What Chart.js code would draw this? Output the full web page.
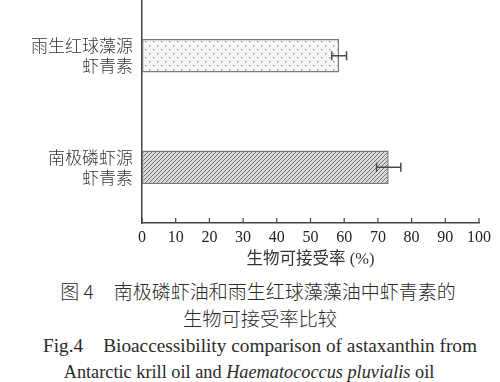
<!DOCTYPE html>
<html><head><meta charset="utf-8">
<script src="https://cdn.jsdelivr.net/npm/chart.js@4/dist/chart.umd.min.js"></script>
<style>
html,body{margin:0;padding:0;background:#fff;width:500px;height:382px;overflow:hidden;}
#wrap{position:absolute;left:0;top:0;width:500px;height:270px;}
.cap{position:absolute;width:500px;text-align:center;color:#2a2a2a;white-space:nowrap;font-family:'Liberation Serif','Noto Sans CJK SC',serif;}
.cjk{font-family:'Noto Sans CJK SC',sans-serif;font-weight:300;}
</style></head>
<body>
<div id="wrap"><canvas id="c" width="500" height="270"></canvas></div>
<div class="cap cjk" style="left:8px;top:279px;font-size:19px;line-height:24px;">图 4<span style="display:inline-block;width:20px"></span>南极磷虾油和雨生红球藻藻油中虾青素的</div>
<div class="cap cjk" style="left:10px;top:306px;font-size:19.3px;line-height:24px;">生物可接受率比较</div>
<div class="cap" style="left:10px;top:334px;font-size:19.3px;line-height:24px;">Fig.4<span style="display:inline-block;width:20px"></span>Bioaccessibility comparison of astaxanthin from</div>
<div class="cap" style="left:-1px;top:360px;font-size:18.3px;line-height:24px;">Antarctic krill oil and <i>Haematococcus pluvialis</i> oil</div>
<script>
const categories = [["雨生红球藻源","虾青素"],["南极磷虾源","虾青素"]];
const values = [58.5, 73.2];
const errors = [2.2, 3.6];
const xTicks = [0,10,20,30,40,50,60,70,80,90,100];
const xTitle = "生物可接受率 (%)";

function dotPattern(){
  const c=document.createElement('canvas');c.width=8;c.height=8;
  const g=c.getContext('2d');
  g.fillStyle='#f7f7f7';g.fillRect(0,0,8,8);
  g.fillStyle='#8a8a8a';
  g.fillRect(1,1,1.3,1.3);g.fillRect(5,5,1.3,1.3);
  return g.createPattern(c,'repeat');
}
function hatchPattern(){
  const c=document.createElement('canvas');c.width=4;c.height=4;
  const g=c.getContext('2d');
  g.fillStyle='#dadada';g.fillRect(0,0,4,4);
  g.strokeStyle='#707070';g.lineWidth=1;
  g.beginPath();
  g.moveTo(0,4);g.lineTo(4,0);
  g.moveTo(-1,1);g.lineTo(1,-1);
  g.moveTo(3,5);g.lineTo(5,3);
  g.stroke();
  return g.createPattern(c,'repeat');
}

const errPlugin={id:'err',afterDatasetsDraw(chart){
  const ctx=chart.ctx,xs=chart.scales.x,ys=chart.scales.y;
  ctx.save();ctx.strokeStyle='#4a4a4a';ctx.lineWidth=1.5;
  values.forEach((v,i)=>{
    const y=ys.getPixelForValue(i);
    const x0=xs.getPixelForValue(v-errors[i]),x1=xs.getPixelForValue(v+errors[i]);
    ctx.beginPath();ctx.moveTo(x0,y);ctx.lineTo(x1,y);
    ctx.moveTo(x0,y-4.5);ctx.lineTo(x0,y+4.5);
    ctx.moveTo(x1,y-4.5);ctx.lineTo(x1,y+4.5);
    ctx.stroke();
  });
  ctx.restore();
}};
const tickPlugin={id:'tk',afterDraw(chart){
  const ctx=chart.ctx,xs=chart.scales.x;
  ctx.save();ctx.strokeStyle='#444';ctx.lineWidth=1.2;
  xs.ticks.forEach((t,i)=>{
    const x=xs.getPixelForTick(i);
    ctx.beginPath();ctx.moveTo(x,xs.top);ctx.lineTo(x,xs.top-5);ctx.stroke();
  });
  ctx.restore();
}};

new Chart(document.getElementById('c'),{
  type:'bar',
  data:{labels:categories,datasets:[{
    data:values,
    backgroundColor:[dotPattern(),hatchPattern()],
    borderColor:'#777',borderWidth:1.5,borderSkipped:false,
    categoryPercentage:0.6,barPercentage:0.5
  }]},
  options:{
    indexAxis:'y',responsive:false,animation:false,devicePixelRatio:1,
    layout:{padding:{top:0,right:21,left:0,bottom:0}},
    plugins:{legend:{display:false},tooltip:{enabled:false}},
    scales:{
      x:{min:0,max:100,
        afterBuildTicks(s){s.ticks=xTicks.map(v=>({value:v}));},
        afterFit(s){s.height=47;},
        grid:{display:false,drawTicks:false},
        border:{display:true,color:'#444',width:1.5},
        ticks:{color:'#222',padding:5,maxRotation:0,font:{family:"'Liberation Serif',serif",size:16}},
        title:{display:true,text:xTitle,color:'#333',padding:{top:0,bottom:0},font:{family:"'Liberation Serif','Noto Sans CJK SC',serif",size:16.5}}
      },
      y:{
        afterFit(s){s.width=142;s.paddingTop=0;s.paddingBottom=0;},
        grid:{display:false,drawTicks:false},
        border:{display:true,color:'#444',width:1.5},
        ticks:{color:'#333',padding:9,font:{family:"'Noto Sans CJK SC',sans-serif",size:17,weight:300,lineHeight:1.18}}
      }
    }
  },
  plugins:[errPlugin,tickPlugin]
});
</script>
</body></html>
